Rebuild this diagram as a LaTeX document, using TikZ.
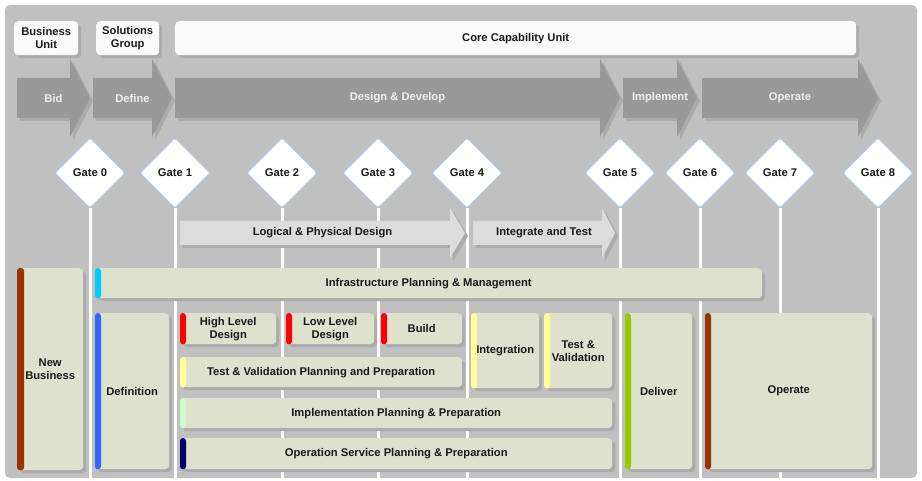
\documentclass[tikz,border=0pt]{standalone}
\usepackage{fontspec}
\setmainfont{Liberation Sans}
\usetikzlibrary{shapes.geometric,shadows}
\definecolor{panelc}{HTML}{C0C0C0}
\definecolor{shadowc}{HTML}{ABABAB}
\definecolor{bigarrowc}{HTML}{999999}
\definecolor{smallarrowc}{HTML}{DCDCDC}
\definecolor{boxc}{HTML}{DDE1CD}
\definecolor{topboxc}{HTML}{FAFAFA}
\definecolor{gatec}{HTML}{A9CBF0}
\definecolor{textc}{HTML}{1A1A1A}
\definecolor{lighttextc}{HTML}{EEEEEE}
\definecolor{brownc}{HTML}{993300}
\definecolor{cyanc}{HTML}{00CCFF}
\definecolor{bluec}{HTML}{3366FF}
\definecolor{redc}{HTML}{FF0000}
\definecolor{yellowc}{HTML}{FFFF99}
\definecolor{mintc}{HTML}{CCFFCC}
\definecolor{navyc}{HTML}{000066}
\definecolor{limec}{HTML}{99CC00}
\newcommand\lab{\fontsize{11.2}{13}\selectfont\bfseries}
\newcommand\bigarrow[5]{%
  \begin{scope}[shift={(3,3)}]
    \fill[shadowc] (#2,78) -- (#3,78) -- (#3,59) -- (#4,98) -- (#3,137) -- (#3,118) -- (#2,118) -- cycle;
  \end{scope}
  \fill[bigarrowc] (#2,78) -- (#3,78) -- (#3,59) -- (#4,98) -- (#3,137) -- (#3,118) -- (#2,118) -- cycle;
  \node[bigtext] (#1) at ({(#2+#4)/2},98) {#5};
}
\newcommand\smallarrow[5]{%
  \begin{scope}[shift={(3,3)}]
    \fill[shadowc] (#2,221) -- (#3,221) -- (#3,208) -- (#4,233) -- (#3,258) -- (#3,245) -- (#2,245) -- cycle;
  \end{scope}
  \fill[smallarrowc] (#2,221) -- (#3,221) -- (#3,208) -- (#4,233) -- (#3,258) -- (#3,245) -- (#2,245) -- cycle;
  \node[smalltext] (#1) at ({(#2+#4)/2},233) {#5};
}
\newcommand\pbox[8]{% name, x, y, w, h, bar colour, text, bar width
  \node[box, anchor=north west, minimum width=#4, minimum height=#5] (#1) at (#2,#3) {#7};
  \fill[#6, rounded corners=3] (#1.north west) rectangle ([xshift=#8pt]#1.south west);
}
\begin{document}
\begin{tikzpicture}[x=1pt,y=-1pt,
  box/.style={fill=boxc, rounded corners=4, inner sep=0pt, align=center, font=\lab, text=textc,
    general shadow={fill=shadowc, shadow xshift=3pt, shadow yshift=-3pt}},
  topbox/.style={box, fill=topboxc},
  gate/.style={diamond, draw=gatec, fill=white, line width=0.8pt, minimum width=70pt, minimum height=70pt,
    inner sep=0pt, font=\lab, text=textc, rounded corners=1.5pt},
  stem/.style={white, line width=3pt},
  bigtext/.style={font=\lab, text=lighttextc, inner sep=0pt},
  smalltext/.style={font=\lab, text=textc, inner sep=0pt}]
\useasboundingbox (0,0) rectangle (922,481);
\fill[white] (0,0) rectangle (922,481);
\fill[panelc, rounded corners=5] (5,5) rectangle (917,478);

% top organisation boxes
\node[topbox, anchor=north west, minimum width=64pt, minimum height=34pt] (bu) at (14,21) {Business\\Unit};
\node[topbox, anchor=north west, minimum width=63pt, minimum height=34pt] (sg) at (96,21) {Solutions\\Group};
\node[topbox, anchor=north west, minimum width=681pt, minimum height=34pt] (ccu) at (175,21) {Core Capability Unit};

% phase arrows
\bigarrow{bid}{17}{70}{90}{Bid}
\bigarrow{define}{93}{152}{172}{Define}
\bigarrow{design}{175}{600}{620}{Design \& Develop}
\bigarrow{implement}{623}{677}{697}{Implement}
\bigarrow{operatephase}{702}{858}{878}{Operate}

% gates
\foreach \n/\x in {0/90,1/175,2/282,3/378,4/467,5/620,6/700,7/780,8/878}{
  \coordinate (b\n) at (\x,478);
  \node[gate] (g\n) at (\x,173) {Gate \n};
  \draw[stem] (g\n.south) -- (b\n);
}

% sub-phase arrows
\smallarrow{lpd}{180}{450}{465}{Logical \& Physical Design}
\smallarrow{iat}{473}{602}{615}{Integrate and Test}

% activity boxes
\pbox{nb}{17}{268}{66pt}{202pt}{brownc}{New\\Business}{7}
\pbox{infra}{95}{268}{667pt}{30pt}{cyanc}{Infrastructure Planning \& Management}{6}
\pbox{def}{95}{313}{74pt}{156pt}{bluec}{Definition}{6}
\pbox{hld}{180}{313}{96pt}{31pt}{redc}{High Level\\Design}{6}
\pbox{lld}{286}{313}{88pt}{31pt}{redc}{Low Level\\Design}{6}
\pbox{build}{381}{313}{81pt}{31pt}{redc}{Build}{6}
\pbox{tvpp}{180}{357}{282pt}{30pt}{yellowc}{Test \& Validation Planning and Preparation}{6}
\pbox{ipp}{180}{398}{432pt}{30pt}{mintc}{Implementation Planning \& Preparation}{6}
\pbox{ospp}{180}{438}{432pt}{31pt}{navyc}{Operation Service Planning \& Preparation}{6}
\pbox{integ}{471}{313}{68pt}{75pt}{yellowc}{Integration}{6}
\pbox{tv}{544}{313}{68pt}{75pt}{yellowc}{Test \&\\Validation}{6}
\pbox{deliver}{625}{313}{67pt}{156pt}{limec}{Deliver}{6}
\pbox{operate}{705}{313}{167pt}{156pt}{brownc}{Operate}{6}
\end{tikzpicture}
\end{document}
